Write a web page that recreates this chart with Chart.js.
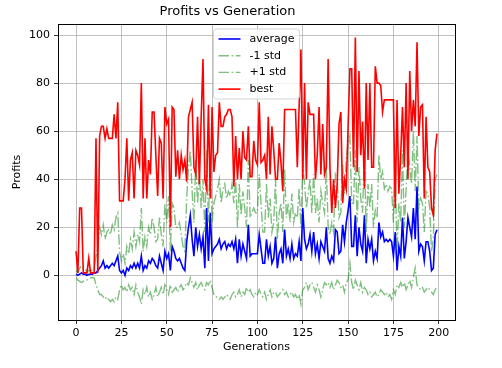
<!DOCTYPE html>
<html>
<head>
<meta charset="utf-8">
<script src="https://cdn.jsdelivr.net/npm/chart.js@4.4.1/dist/chart.umd.min.js"></script>
<style>
  html, body { margin: 0; padding: 0; background: #fff; }
  #wrap { width: 502px; height: 368px; }
</style>
</head>
<body>
<div id="wrap"><canvas id="myChart" width="502" height="368"></canvas></div>
<script>
const ctx = document.getElementById('myChart');

let generations = [];
for (let i = 0; i < 200; i++) generations.push(i);

let average = [
  0.5, 0, 0.5, 1, 0.5, 0.5, 0, 0.3, 0.5, 0.5,
  1, 1, 2, 3, 4, 6, 3, 4, 3, 4,
  5, 4, 6, 8, 2, 1, 2, 0, 3, 2,
  4, 3, 5, 3, 5, 3, 8, 2, 4, 3,
  6, 5, 7, 6, 4, 3, 8, 5, 2, 10,
  7, 9, 2, 12, 10, 7, 6, 7, 5, 3,
  2, 14, 20, 25, 15, 8, 20, 12, 17, 11,
  16, 3, 28, 6, 26, 9, 11, 12, 13, 15,
  11, 13, 14, 11, 13, 12, 14, 11, 15, 5,
  15, 8, 13, 10, 7, 21, 8, 9, 9, 9,
  9, 17, 11, 5, 5, 15, 8, 12, 5, 7,
  16, 3, 9, 11, 5, 19, 8, 11, 7, 13,
  7, 9, 8, 14, 6, 28, 15, 11, 13, 17,
  10, 18, 9, 13, 7, 14, 12, 10, 20, 7,
  5, 8, 6, 19, 18, 9, 10, 21, 14, 22,
  27, 33, 12, 12, 25, 8, 20, 13, 10, 25,
  5, 15, 11, 15, 6, 10, 7, 22, 16, 18,
  14, 15, 14, 15, 14, 8, 18, 2, 12, 8,
  24, 7, 14, 24, 20, 16, 28, 15, 37, 10,
  13, 12, 6, 14, 14, 10, 2, 3, 17, 19
];

let minusStd = [
  -1, -2, -2.5, -3, -2.5, -2, -2, -1.5, -1, -1,
  -1, -4, -6, -8, -8, -9, -10, -9, -10, -11,
  -10, -11, -9, -10, -6, -4, -6, -5, -7, -4,
  -6, -5, -8, -4, -7, -9, -12, -6, -8, -5,
  -9, -7, -10, -8, -5, -9, -7, -5, -8, -4,
  -6, -8, -4, -7, -6, -5, -7, -5, -4, -6,
  -5, -3, -4, -1, -3, -5, -3, -6, -4, -3,
  -5, -6, -3, -4, -2, -5, -8, -9, -9, -10,
  -9, -10, -9, -8, -9, -10, -8, -7, -9, -8,
  -6, -9, -7, -8, -5, -7, -6, -8, -9, -7,
  -8, -6, -8, -9, -7, -10, -8, -6, -9, -7,
  -7, -9, -8, -7, -6, -8, -7, -9, -8, -7,
  -9, -8, -10, -8, -12, -6, -5, -3, -6, -4,
  -3, -5, -7, -4, -6, -9, -6, -3, -4, -3,
  -5, -3, -6, -4, -2, -3, -5, -4, -7, -3,
  -2, 5, -3, -6, -2, -4, -6, -3, -7, -5,
  -6, -8, -7, -9, -8, -7, -9, -8, -6, -7,
  -8, -7, -9, -8, -10, -6, -8, -4, -5, -3,
  -5, -3, -6, -4, -2, -5, -1, 3, -4, -5,
  -6, -5, -7, -6, -5, -6, -7, -8, -6, -5
];

let plusStd = [
  2, 1, 3, 4, 3, 3, 1, 2, 2, 2,
  3, 8, 12, 20, 17, 21, 15, 18, 19, 17,
  21, 19, 24, 26, 10, 6, 9, 5, 12, 9,
  15, 11, 18, 12, 17, 14, 28, 10, 16, 12,
  20, 17, 24, 20, 14, 15, 24, 17, 12, 30,
  22, 33, 10, 30, 28, 20, 20, 22, 17, 12,
  10, 32, 45, 52, 35, 22, 48, 30, 42, 28,
  40, 18, 52, 22, 50, 22, 30, 33, 36, 40,
  30, 36, 38, 32, 35, 33, 38, 30, 40, 20,
  38, 25, 35, 28, 20, 48, 24, 26, 28, 26,
  26, 42, 30, 18, 18, 38, 24, 32, 18, 22,
  40, 15, 26, 30, 18, 44, 24, 30, 22, 34,
  22, 26, 24, 36, 20, 46, 38, 28, 34, 40,
  26, 42, 26, 32, 22, 35, 30, 26, 45, 20,
  17, 22, 18, 42, 40, 24, 26, 46, 34, 48,
  55, 58, 30, 30, 52, 22, 45, 32, 26, 52,
  18, 38, 28, 38, 20, 27, 24, 50, 40, 43,
  36, 38, 35, 37, 36, 22, 42, 10, 30, 22,
  52, 20, 36, 52, 45, 38, 60, 35, 58, 28,
  32, 30, 18, 35, 34, 28, 10, 15, 40, 42
];

let best = [
  10, 1, 28, 28, 1, 1, 1, 7, 1, 1,
  1, 57, 1, 58, 62, 62, 57, 61, 57, 57,
  57, 67, 57, 72, 31, 31, 31, 40, 57, 31,
  48, 51, 32, 52, 50, 46, 80, 32, 57, 32,
  48, 42, 68, 68, 50, 33, 57, 55, 32, 70,
  63, 65, 20, 70, 69, 41, 52, 40, 50, 44,
  48, 39, 66, 69, 72, 45, 42, 66, 38, 66,
  90, 40, 36, 71, 32, 70, 43, 50, 51, 72,
  62, 62, 66, 67, 69, 69, 66, 37, 58, 40,
  53, 40, 60, 49, 48, 62, 41, 41, 56, 48,
  46, 72, 47, 48, 50, 40, 66, 42, 62, 52,
  40, 40, 55, 47, 35, 69, 69, 69, 69, 69,
  69, 69, 45, 70, 94, 40, 80, 40, 72, 67,
  67, 67, 40, 50, 70, 42, 63, 42, 45, 90,
  45, 26, 40, 28, 38, 63, 68, 30, 40, 36,
  62, 86, 86, 45, 99, 43, 85, 50, 64, 36,
  80, 48, 80, 45, 45, 87, 80, 80, 79, 68,
  73, 73, 73, 73, 73, 73, 28, 73, 34, 50,
  70, 45, 80, 40, 85, 60, 73, 62, 97, 58,
  70, 71, 32, 66, 45, 43, 28, 25, 52, 59
];

let xTicks = [0, 25, 50, 75, 100, 125, 150, 175, 200];
let yTicks = [0, 20, 40, 60, 80, 100];

const FONT = 'DejaVu Sans';
const green = 'rgba(0,128,0,0.5)';
const dashDot = [10.5, 2.6, 1.6, 2.6];

function pts(arr) {
  return arr.map((v, i) => ({ x: generations[i], y: v }));
}

// matplotlib style frame + in-axes legend
const frameAndLegend = {
  id: 'frameAndLegend',
  afterDraw(chart) {
    const c = chart.ctx;
    const a = chart.chartArea;
    c.save();
    c.strokeStyle = '#000';
    c.lineWidth = 1;
    c.strokeRect(Math.round(a.left) + 0.5, Math.round(a.top) + 0.5,
      Math.round(a.right - a.left), Math.round(a.bottom - a.top));

    // legend box, upper center
    const items = [chart.data.datasets[3], chart.data.datasets[2], chart.data.datasets[1], chart.data.datasets[0]];
    const bw = 86, bh = 70;
    const bx = (a.left + a.right) / 2 - bw / 2;
    const by = a.top + 5;
    c.beginPath();
    c.roundRect(bx, by, bw, bh, 3);
    c.fillStyle = 'rgba(255,255,255,0.8)';
    c.fill();
    c.strokeStyle = 'rgba(204,204,204,0.8)';
    c.lineWidth = 1;
    c.stroke();
    c.font = '11px ' + FONT;
    c.textBaseline = 'middle';
    c.textAlign = 'left';
    items.forEach((ds, k) => {
      const y = by + 10 + k * 16.7;
      c.beginPath();
      c.strokeStyle = ds.borderColor;
      c.lineWidth = ds.borderWidth;
      c.setLineDash(ds.borderDash || []);
      c.moveTo(bx + 5, y);
      c.lineTo(bx + 27, y);
      c.stroke();
      c.setLineDash([]);
      c.fillStyle = '#000';
      c.fillText(ds.label, bx + 36, y);
    });
    c.restore();
  }
};

new Chart(ctx, {
  type: 'line',
  data: {
    datasets: [{
      label: 'best',
      data: pts(best),
      borderColor: '#ff0000',
      borderWidth: 1.6,
      pointRadius: 0,
      order: 1
    }, {
      label: '+1 std',
      data: pts(plusStd),
      borderColor: green,
      borderWidth: 1.4,
      borderDash: dashDot,
      pointRadius: 0,
      order: 2
    }, {
      label: '-1 std',
      data: pts(minusStd),
      borderColor: green,
      borderWidth: 1.4,
      borderDash: dashDot,
      pointRadius: 0,
      order: 3
    }, {
      label: 'average',
      data: pts(average),
      borderColor: '#0000ff',
      borderWidth: 1.6,
      pointRadius: 0,
      order: 4
    }]
  },
  options: {
    responsive: false,
    animation: false,
    layout: { padding: { left: 0, right: 47, top: 0, bottom: 0 } },
    plugins: {
      legend: { display: false },
      tooltip: { enabled: false },
      title: {
        display: true,
        text: 'Profits vs Generation',
        color: '#000',
        font: { family: FONT, size: 13, weight: 'normal' },
        padding: { top: 4, bottom: 4.4 }
      }
    },
    scales: {
      x: {
        type: 'linear',
        min: -9.95,
        max: 208.95,
        afterBuildTicks: (s) => { s.ticks = xTicks.map(v => ({ value: v })); },
        afterFit: (s) => { s.height = 48; },
        grid: { color: '#b0b0b0', lineWidth: 0.8, tickColor: '#000', tickLength: 4 },
        border: { display: false },
        ticks: { color: '#000', font: { family: FONT, size: 11 }, padding: 3, maxRotation: 0 },
        title: { display: true, text: 'Generations', color: '#000', font: { family: FONT, size: 11 }, padding: { top: 0, bottom: 14 } }
      },
      y: {
        min: -18.6,
        max: 104.6,
        afterBuildTicks: (s) => { s.ticks = yTicks.map(v => ({ value: v })); },
        afterFit: (s) => { s.width = 58; },
        grid: { color: '#b0b0b0', lineWidth: 0.8, tickColor: '#000', tickLength: 4 },
        border: { display: false },
        ticks: { color: '#000', font: { family: FONT, size: 11 }, padding: 4 },
        title: { display: true, text: 'Profits', color: '#000', font: { family: FONT, size: 11 }, padding: { top: 11, bottom: 0 } }
      }
    }
  },
  plugins: [frameAndLegend]
});
</script>
</body>
</html>
